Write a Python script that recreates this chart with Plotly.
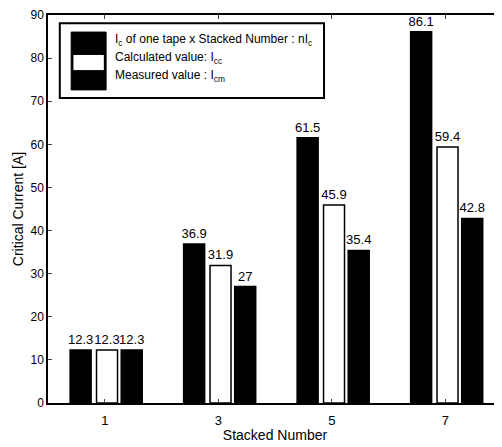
import plotly.graph_objects as go

stacked = [1, 3, 5, 7]
tick_labels = ["1", "3", "5", "7"]
ic_times_n = [12.3, 36.9, 61.5, 86.1]
calculated = [12.3, 31.9, 45.9, 59.4]
measured = [12.3, 27, 35.4, 42.8]

font = "Liberation Sans, Arial, sans-serif"
fig = go.Figure()

specs = [
    (ic_times_n, "black", -0.61),
    (calculated, "white", -0.145),
    (measured, "black", 0.29),
]
for vals, col, off in specs:
    fig.add_trace(go.Bar(
        x=stacked, y=vals, width=0.37, offset=off,
        marker=dict(color=col, line=dict(color="black", width=1.5)),
        text=[f"{v:g}" for v in vals], textposition="outside",
        constraintext="none",
        textfont=dict(family=font, size=13, color="black"),
        cliponaxis=False, showlegend=False,
    ))

fig.update_layout(
    width=502, height=447,
    margin=dict(l=40, r=8, t=7, b=52, autoexpand=False),
    paper_bgcolor="white", plot_bgcolor="white",
    barmode="overlay",
    font=dict(family=font, size=12, color="black"),
    xaxis=dict(range=[0, 8], tickvals=stacked, ticktext=tick_labels,
               ticks="inside", ticklen=4, showline=True, linecolor="black",
               linewidth=1.5, mirror="ticks", showgrid=False, zeroline=False,
               ticklabelstandoff=5,
               title=dict(text="Stacked Number", font=dict(size=14), standoff=3),
               tickfont=dict(size=13)),
    yaxis=dict(range=[0, 90], dtick=10, ticks="inside", ticklen=4,
               showline=True, linecolor="black", linewidth=1.5, mirror="ticks",
               showgrid=False, zeroline=False,
               title=dict(text="Critical Current [A]", font=dict(size=14), standoff=4),
               tickfont=dict(size=12)),
)

# legend box drawn manually (stacked patch symbol)
shapes = [
    dict(type="rect", xref="paper", yref="paper", x0=0.026, x1=0.608, y0=0.786, y1=0.979,
         line=dict(color="black", width=2), fillcolor="white", layer="above"),
    dict(type="rect", xref="paper", yref="paper", x0=0.051, x1=0.128, y0=0.807, y1=0.956,
         line=dict(color="black", width=1), fillcolor="black", layer="above"),
    dict(type="rect", xref="paper", yref="paper", x0=0.056, x1=0.123, y0=0.858, y1=0.897,
         line=dict(width=0), fillcolor="white", layer="above"),
]
fig.update_layout(shapes=shapes)
labels = ["I<sub>c</sub> of one tape x Stacked Number : nI<sub>c</sub>",
          "Calculated value: I<sub>cc</sub>",
          "Measured value : I<sub>cm</sub>"]
ys = [0.936, 0.889, 0.843]
for t, yy in zip(labels, ys):
    fig.add_annotation(text=t, xref="paper", yref="paper", x=0.143, y=yy,
                       xanchor="left", yanchor="middle", showarrow=False,
                       font=dict(family=font, size=12, color="black"))

fig.write_html("out.html")
